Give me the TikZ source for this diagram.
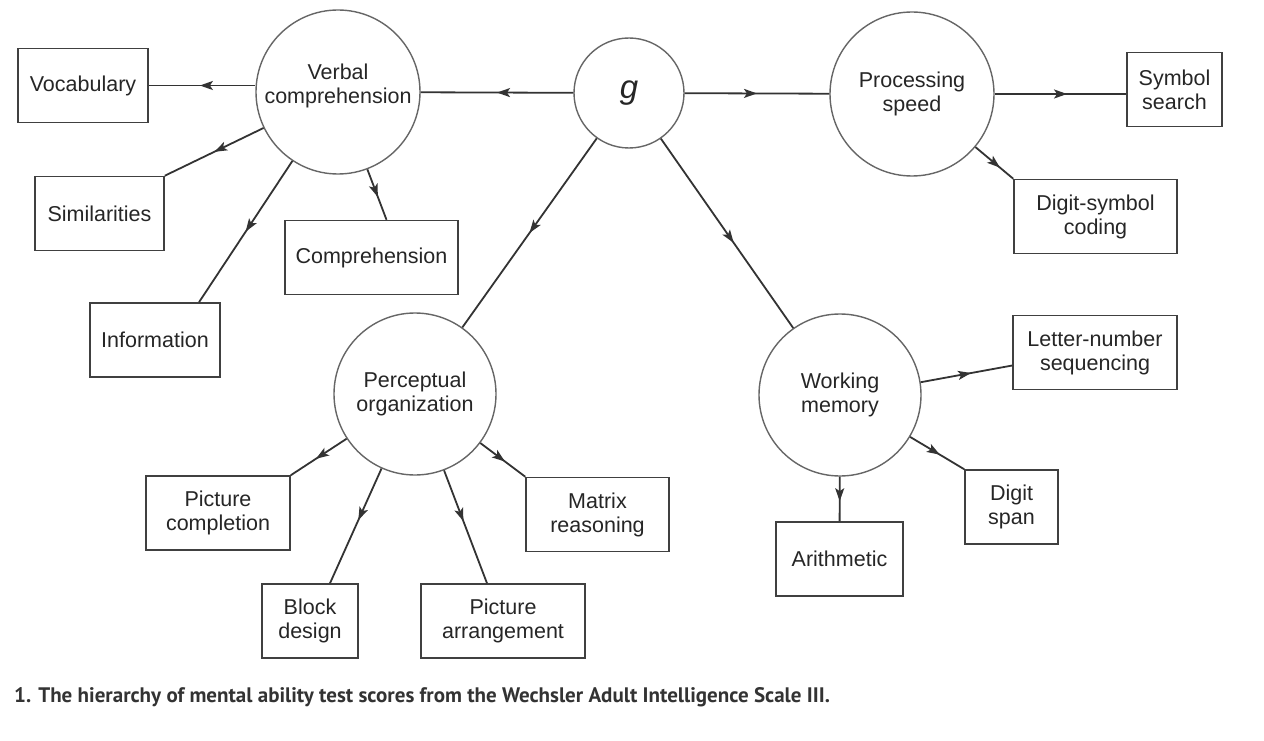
\documentclass[tikz,border=0pt]{standalone}
\usepackage{fontspec}
\setmainfont{Liberation Sans}
\newfontfamily\capfont{PT Sans}
\usetikzlibrary{arrows.meta,decorations.markings,calc}
\begin{document}
\begin{tikzpicture}[x=1pt,y=-1pt,
  lbl/.style={font=\fontsize{21.5}{24}\selectfont,text=black!85,align=center},
  box/.style={lbl,draw=black!75,line width=1.5pt,minimum width=#1,minimum height=74pt,inner sep=0pt},
  factor/.style={lbl,circle,draw=black!60,line width=1.4pt,minimum size=164pt,inner sep=0pt},
  conn/.style={draw=black!80,line width=1.8pt},
  midarrow/.style={postaction={decorate,decoration={markings,mark=at position #1 with {\arrow{Stealth[length=13pt,width=9pt,inset=3pt]}}}}}
]
\fill[white] (0,0) rectangle (1264,741);
\useasboundingbox (0,0) rectangle (1264,741);

% factors
\node[factor] (vc) at (338,92) {Verbal\\comprehension\\[-8pt]\mbox{}};
\node[factor,minimum size=110pt,font=\fontsize{33}{33}\selectfont\itshape] (g) at (629,93) {g};
\node[factor] (ps) at (912,94) {Processing\\speed};
\node[factor,minimum size=162pt] (po) at (415,394) {Perceptual\\organization};
\node[factor,minimum size=162pt] (wm) at (840,395) {Working\\memory};

% tests
\node[box=130pt] (voc) at (83,85.5) {Vocabulary};
\node[box=129pt] (sim) at (99.5,213.5) {Similarities};
\node[box=173pt] (comp) at (371.5,257.5) {Comprehension};
\node[box=130pt] (info) at (155,340) {Information};
\node[box=95pt] (ss) at (1174.5,89.5) {Symbol\\search};
\node[box=163pt] (dsc) at (1095.5,216.5) {Digit-symbol\\coding};
\node[box=164pt] (ln) at (1095,352.5) {Letter-number\\sequencing};
\node[box=93pt] (ds) at (1011.5,507) {Digit\\span};
\node[box=127pt] (ar) at (839.5,559) {Arithmetic};
\node[box=144pt] (pc) at (218,513) {Picture\\completion};
\node[box=96pt] (bd) at (310,621) {Block\\design};
\node[box=164pt] (pa) at (503,621) {Picture\\arrangement};
\node[box=143pt] (mr) at (597.5,514.5) {Matrix\\reasoning};

% connectors
\draw[conn,midarrow=0.5] (g) -- (vc);
\draw[conn,midarrow=0.52] (vc.west |- voc.east) -- (voc.east);
\draw[conn,midarrow=0.5] (vc) -- (sim.north east);
\draw[conn,midarrow=0.5] (vc) -- ([xshift=44pt]info.north);
\draw[conn,midarrow=0.55] (vc) -- ([xshift=15pt]comp.north);
\draw[conn,midarrow=0.5] (g) -- (po);
\draw[conn,midarrow=0.55] (g) -- (wm);
\draw[conn,midarrow=0.5] (g) -- (ps);
\draw[conn,midarrow=0.55] (ps) -- (ps -| ss.west);
\draw[conn,midarrow=0.65] (ps) -- (dsc.north west);
\draw[conn,midarrow=0.55] (po) -- (pc.north east);
\draw[conn,midarrow=0.45] (po) -- ([xshift=20pt]bd.north);
\draw[conn,midarrow=0.45] (po) -- ([xshift=-16pt]pa.north);
\draw[conn,midarrow=0.55] (po) -- (mr.north west);
\draw[conn,midarrow=0.55] (wm.9) -- ([yshift=-13pt]ln.west);
\draw[conn,midarrow=0.55] (wm) -- (ds.north west);
\draw[conn,midarrow=0.55] (wm) -- (ar);

% caption
\node[anchor=west,inner sep=0pt,text=black!80,font=\capfont\bfseries\fontsize{21}{24}\selectfont] (cap) at (14,697) {1. The hierarchy of mental ability test scores from the Wechsler Adult Intelligence Scale III.};
\end{tikzpicture}
\end{document}
